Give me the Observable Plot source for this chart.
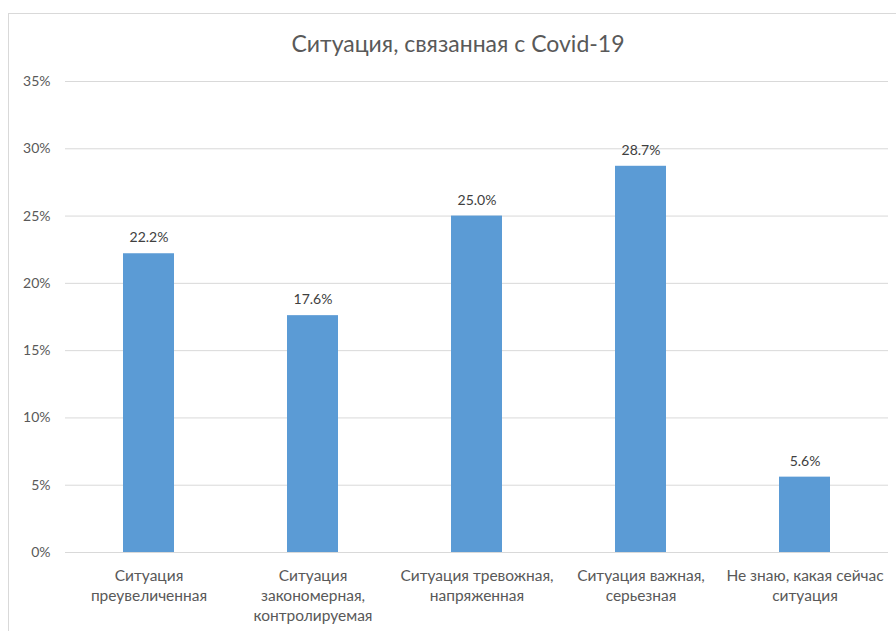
<!DOCTYPE html>
<html>
<head>
<meta charset="utf-8">
<script src="https://cdn.jsdelivr.net/npm/d3@7"></script>
<script src="https://cdn.jsdelivr.net/npm/@observablehq/plot@0.6"></script>
<style>
  html, body { margin: 0; padding: 0; background: #fff; }
  #page { position: relative; width: 896px; height: 631px; overflow: hidden; font-family: Lato, "Open Sans", sans-serif; }
  #frame { position: absolute; left: 8px; top: 13px; width: 1000px; height: 1000px; border: 1px solid #d9d9d9; box-sizing: border-box; }
  #title { position: absolute; left: 0; top: 29px; width: 916px; text-align: center; font-size: 23px; color: #595959; }
  #chart { position: absolute; left: 0; top: 65px; }
</style>
</head>
<body>
<div id="page">
  <div id="frame"></div>
  <div id="title">Ситуация, связанная с Covid-19</div>
  <div id="chart"></div>
</div>
<script>
const categories = [
  "Ситуация\nпреувеличенная",
  "Ситуация\nзакономерная,\nконтролируемая",
  "Ситуация тревожная,\nнапряженная",
  "Ситуация важная,\nсерьезная",
  "Не знаю, какая сейчас\nситуация"
];
const values = [22.2, 17.6, 25.0, 28.7, 5.6];
const yTicks = [0, 5, 10, 15, 20, 25, 30, 35];

const data = categories.map((c, i) => ({category: c, value: values[i]}));

const chart = Plot.plot({
  width: 896,
  height: 566,
  marginTop: 16,
  marginBottom: 79,
  marginLeft: 65,
  marginRight: 8,
  style: {fontFamily: "Lato, 'Open Sans', sans-serif", fontSize: "14px", color: "#595959", background: "transparent"},
  x: {domain: categories, paddingInner: 0.69, paddingOuter: 0.345, label: null},
  y: {domain: [0, 35], label: null},
  marks: [
    Plot.gridY(yTicks, {stroke: "#d9d9d9", strokeOpacity: 1, strokeWidth: 1}),
    Plot.axisX({tickSize: 0, tickPadding: 15, lineHeight: 1.27, fontSize: 15.5, fill: "#595959"}),
    Plot.axisY({ticks: yTicks, tickSize: 0, tickPadding: 15, tickFormat: d => d + "%", fontSize: 14, fill: "#595959"}),
    Plot.barY(data, {x: "category", y: "value", fill: "#5b9bd5"}),
    Plot.text(data, {x: "category", y: "value", text: d => d.value.toFixed(1) + "%", dy: -16, fill: "#404040", fontSize: 14, textAnchor: "middle"})
  ]
});
document.getElementById("chart").appendChild(chart);
</script>
</body>
</html>
